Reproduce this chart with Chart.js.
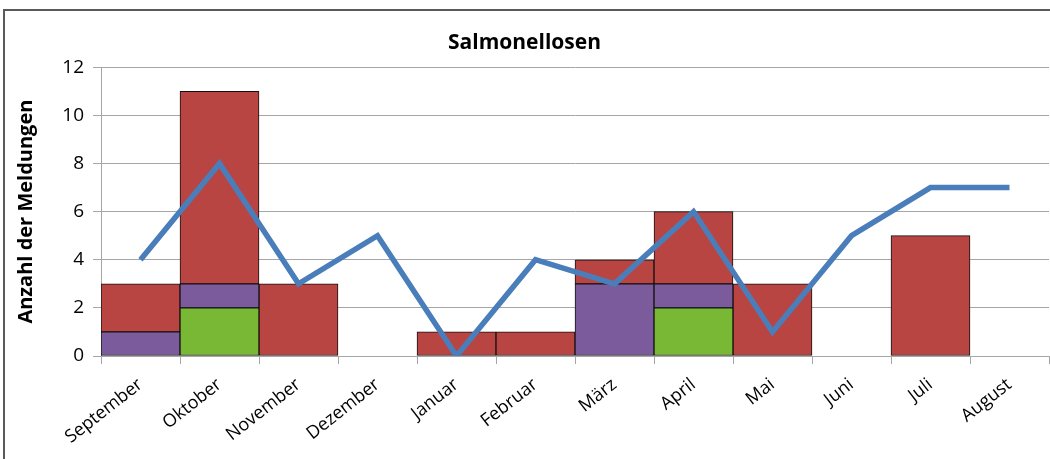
<!DOCTYPE html>
<html>
<head>
<meta charset="utf-8">
<script src="https://cdn.jsdelivr.net/npm/chart.js@4"></script>
<style>
  html, body { margin: 0; padding: 0; background: #fff; }
  #wrap { position: relative; width: 1050px; height: 459px; overflow: hidden; }
  #frame { position: absolute; left: 3px; top: 9px; width: 1100px; height: 500px;
           border-left: 2px solid #5a5a5a; border-top: 2px solid #5a5a5a; }
  #salmonellen { position: absolute; left: 0; top: 0; }
</style>
</head>
<body>
<div id="wrap">
  <div id="frame"></div>
  <canvas id="salmonellen" width="1050" height="459"></canvas>
</div>
<script>
var monate = ["September", "Oktober", "November", "Dezember", "Januar", "Februar",
              "März", "April", "Mai", "Juni", "Juli", "August"];
var gruen = [0, 2, 0, 0, 0, 0, 0, 2, 0, 0, 0, 0];
var lila  = [1, 1, 0, 0, 0, 0, 3, 1, 0, 0, 0, 0];
var rot   = [2, 8, 3, 0, 1, 1, 1, 3, 3, 0, 5, 0];
var linie = [4, 8, 3, 5, 0, 4, 3, 6, 1, 5, 7, 7];
var yTicks = [0, 2, 4, 6, 8, 10, 12];

var gridGrau = "#a6a6a6";
var schrift = "'Open Sans', 'DejaVu Sans', sans-serif";

function balken(label, werte, farbe) {
    return {
        type: 'bar',
        label: label,
        data: werte,
        backgroundColor: farbe,
        borderColor: "#111",
        borderWidth: 1,
        borderSkipped: false,
        categoryPercentage: 1.0,
        barPercentage: 1.0,
        stack: 'balken',
        order: 1
    };
}

var chart = new Chart(document.getElementById("salmonellen"), {
    type: 'bar',
    data: {
        labels: monate,
        datasets: [
            {
                type: 'line',
                label: 'Vorjahr',
                data: linie,
                borderColor: "#4a7ebb",
                borderWidth: 5.5,
                pointRadius: 0,
                tension: 0,
                fill: false,
                stack: 'linie',
                order: 0
            },
            balken('A', gruen, "#78b834"),
            balken('B', lila, "#7b5b9b"),
            balken('C', rot, "#b94543")
        ]
    },
    options: {
        responsive: false,
        animation: false,
        layout: { padding: { left: 0, right: 1, top: 0, bottom: 0 } },
        plugins: {
            legend: { display: false },
            tooltip: { enabled: false },
            title: {
                display: true,
                text: "Salmonellosen",
                color: "#000",
                font: { family: schrift, size: 21, weight: 'bold' },
                padding: { top: 30, bottom: 12 }
            }
        },
        scales: {
            x: {
                stacked: true,
                offset: true,
                grid: {
                    offset: true,
                    drawOnChartArea: false,
                    drawTicks: true,
                    tickLength: 8,
                    color: gridGrau
                },
                border: { color: gridGrau },
                ticks: {
                    color: "#000",
                    font: { family: schrift, size: 18 },
                    minRotation: 38,
                    maxRotation: 38,
                    padding: 10
                },
                afterFit: function (s) { s.height = 103; }
            },
            y: {
                stacked: true,
                min: 0,
                max: 12,
                afterBuildTicks: function (s) {
                    s.ticks = yTicks.map(function (v) { return { value: v }; });
                },
                grid: {
                    color: gridGrau,
                    drawTicks: true,
                    tickLength: 8
                },
                border: { color: gridGrau },
                ticks: {
                    color: "#000",
                    font: { family: schrift, size: 19 },
                    padding: 9
                },
                title: {
                    display: true,
                    text: "Anzahl der Meldungen",
                    color: "#000",
                    font: { family: schrift, size: 20, weight: 'bold' },
                    padding: { top: 14, bottom: 0 }
                },
                afterFit: function (s) { s.width = 101; }
            }
        }
    }
});
</script>
</body>
</html>
